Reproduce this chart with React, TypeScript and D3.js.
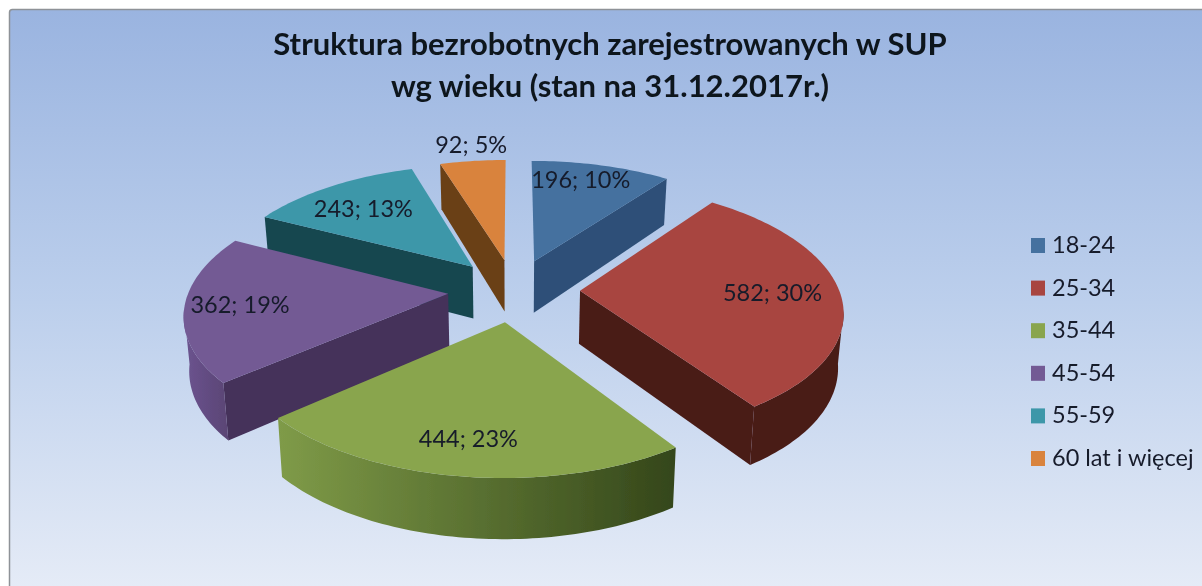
import React from "react";
import * as d3 from "d3";

const categories = ["18-24", "25-34", "35-44", "45-54", "55-59", "60 lat i więcej"];
const values = [196, 582, 444, 362, 243, 92];
const percents = [10, 30, 23, 19, 13, 5];
const topColors = ["#44719f", "#a8453f", "#89a54e", "#735a94", "#3e97a9", "#d9833c"];
const faceColors = ["#2e5078", "#4a1b17", "#3a4a1c", "#44305a", "#174650", "#6a3f14"];
const outerLeft = ["#2e5078", "#4a1b17", "#7f9b48", "#6c5490", "#174650", "#6a3f14"];
const outerRight = ["#2e5078", "#4a1b17", "#34461a", "#574270", "#174650", "#6a3f14"];
const labelRadius = [0.76, 0.74, 0.78, 0.78, 0.75, 1.24];
const labelNudgeX = [-6, 0, -4, -3, 0, 5];
const labelNudgeY = [-6, 0, 1, 0, 4, 4];
const titleLines = ["Struktura bezrobotnych zarejestrowanych w SUP", "wg wieku (stan na 31.12.2017r.)"];

const W = 1202, H = 586;
const CX = 514, CY = 290, R = 259, EXPLODE = 66, D = 1780, K = 0.474;
const FONT = "Lato, 'Open Sans', sans-serif";

type P = [number, number];
const project = (u: number, v: number): P => {
  const f = D / (D + v);
  return [CX + u * f, CY - v * K * f];
};
const drop = ([x, y]: P, v: number): P => [CX + (x - CX) * 0.983, y + 53 - 0.025 * v];
const line = d3.line<P>().x(d => d[0]).y(d => d[1]);

const pie = d3.pie<number>().sort(null).startAngle(0).endAngle(2 * Math.PI);
const arcs = pie(values).map((a, i) => {
  const mid = (a.startAngle + a.endAngle) / 2;
  const ox = EXPLODE * Math.sin(mid), oy = EXPLODE * Math.cos(mid);
  const steps = [...d3.range(a.startAngle, a.endAngle, 0.02), a.endAngle];
  const rim3 = steps.map(t => [ox + R * Math.sin(t), oy + R * Math.cos(t)] as P);
  const rimTop = rim3.map(([u, v]) => project(u, v));
  const rimBottom = rim3.map(([u, v], j) => drop(rimTop[j], v));
  const apexTop = project(ox, oy);
  const apexBottom = drop(apexTop, oy);
  const n = rimTop.length - 1;
  const front = d3.range(rimTop.length).filter(j => rim3[j][1] < -40);
  const frontTop = front.map(j => rimTop[j]);
  const frontBottom = front.map(j => rimBottom[j]);
  const xs = rimTop.map(p => p[0]);
  const faces: string[] = [];
  if (Math.sin(a.startAngle) < -1e-6) faces.push(line([apexTop, rimTop[0], rimBottom[0], apexBottom])! + "Z");
  if (Math.sin(a.endAngle) > 1e-6) faces.push(line([apexTop, rimTop[n], rimBottom[n], apexBottom])! + "Z");
  const lp = project(ox + labelRadius[i] * R * Math.sin(mid), oy + labelRadius[i] * R * Math.cos(mid));
  return {
    i, mid, oy, faces,
    top: line([apexTop, ...rimTop])! + "Z",
    outer: front.length ? line([...frontTop, ...frontBottom.slice().reverse()])! + "Z" : "",
    x0: d3.min(xs)!, x1: d3.max(xs)!,
    label: [lp[0] + labelNudgeX[i], lp[1] + labelNudgeY[i]] as P,
  };
});
const drawOrder = arcs.slice().sort((a, b) => b.oy - a.oy);

const legendY = d3.scalePoint<string>().domain(categories).range([245, 458]);

export default function App() {
  return (
    <svg width={W} height={H} style={{ position: "absolute", left: 0, top: 0, background: "#fff" }}>
      <defs>
        <linearGradient id="bg" x1="0" y1="0" x2="0" y2="1">
          <stop offset="0" stopColor="#9ab4e0" />
          <stop offset="0.5" stopColor="#bccfec" />
          <stop offset="1" stopColor="#e6ecf7" />
        </linearGradient>
        {arcs.map(a => (
          <linearGradient key={a.i} id={`outer${a.i}`} gradientUnits="userSpaceOnUse" x1={a.x0} x2={a.x1} y1={0} y2={0}>
            <stop offset="0" stopColor={outerLeft[a.i]} />
            <stop offset="1" stopColor={outerRight[a.i]} />
          </linearGradient>
        ))}
        <filter id="soft" x="-2%" y="-2%" width="104%" height="104%">
          <feGaussianBlur stdDeviation="0.5" />
        </filter>
      </defs>
      <rect x={9.5} y={9.5} width={W} height={H} rx={3} fill="url(#bg)" stroke="#8e9297" strokeWidth={1.5} />
      <g filter="url(#soft)">
        {drawOrder.map(a => (
          <g key={a.i}>
            {a.faces.map((d, j) => <path key={j} d={d} fill={faceColors[a.i]} />)}
            {a.outer && <path d={a.outer} fill={`url(#outer${a.i})`} />}
            <path d={a.top} fill={topColors[a.i]} />
          </g>
        ))}
        <g fontFamily={FONT} fill="#10141f" textAnchor="middle">
          {titleLines.map((t, i) => (
            <text key={t} x={610} y={55 + i * 42} fontSize={31} fontWeight={700}>{t}</text>
          ))}
          {arcs.map(a => (
            <text key={a.i} x={a.label[0]} y={a.label[1] + 8} fontSize={23.5} fill="#161a2a">
              {`${values[a.i]}; ${percents[a.i]}%`}
            </text>
          ))}
        </g>
        {categories.map((c, i) => (
          <g key={c}>
            <rect x={1031} y={legendY(c)! - 7} width={14} height={15} fill={topColors[i]} />
            <text x={1052} y={legendY(c)! + 8} fontFamily={FONT} fontSize={23.5} fill="#161a2a">{c}</text>
          </g>
        ))}
      </g>
    </svg>
  );
}
